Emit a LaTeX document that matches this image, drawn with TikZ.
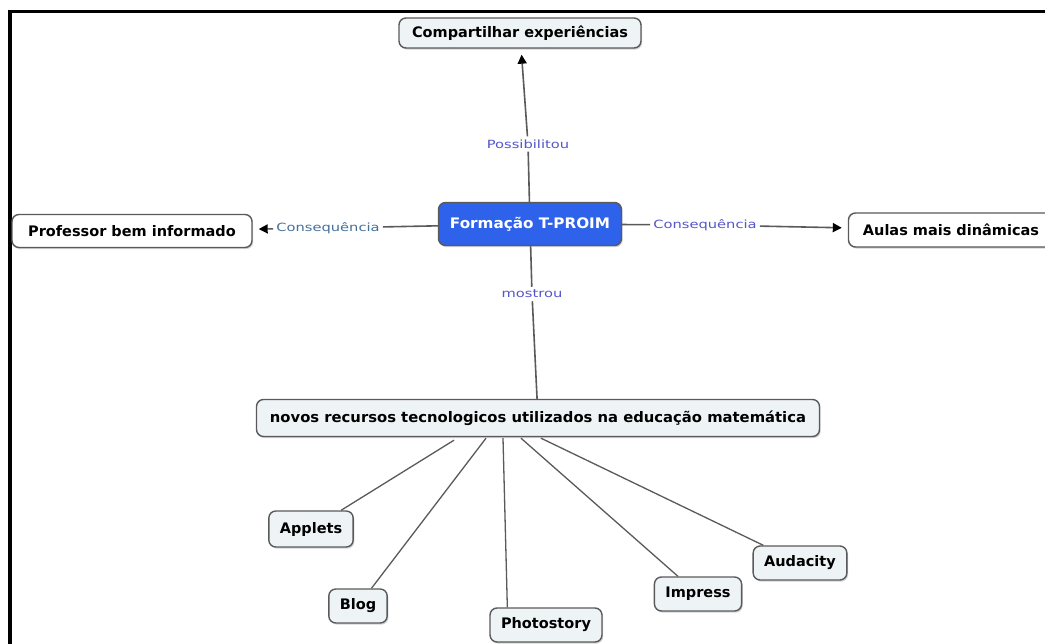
\documentclass[tikz,border=0pt]{standalone}
\usepackage{fontspec}
\usetikzlibrary{arrows.meta,shadows,calc}
\newfontfamily\cmapfont{DejaVu Sans}
\newfontfamily\cmapwide[FakeStretch=1.05]{DejaVu Sans}
\newfontfamily\cmapmid[FakeStretch=1.02]{DejaVu Sans}
\newfontfamily\linkfont[FakeStretch=1.3]{DejaVu Sans}
\definecolor{hubblue}{HTML}{2F62EA}
\definecolor{leaffill}{HTML}{EEF3F5}
\definecolor{edgegray}{HTML}{5A5A5A}
\definecolor{linkviolet}{HTML}{5555CC}
\definecolor{linksteel}{HTML}{43709C}
\begin{document}
\begin{tikzpicture}[x=1pt,y=-1pt,
  concept/.style={draw=edgegray, line width=1.4pt, rounded corners=7pt, fill=leaffill,
    font=\cmapfont\bfseries\fontsize{14.5}{16}\selectfont, text=black, inner xsep=11pt,
    minimum height=34pt,
    drop shadow={shadow xshift=1.2pt, shadow yshift=-1.6pt, opacity=0.35}},
  wide/.style={font=\cmapwide\bfseries\fontsize{14.5}{16}\selectfont},
  plain/.style={concept, fill=white},
  hub/.style={concept, wide, fill=hubblue, text=white, minimum height=43pt},
  linkword/.style={font=\linkfont\fontsize{11.3}{13}\selectfont, text=linkviolet, inner sep=3pt},
  link/.style={draw=edgegray, line width=1.6pt},
  linkarrow/.style={link, -{Triangle[length=9pt,width=9pt,color=black]}, shorten >=6pt}
]
\useasboundingbox (0,0) rectangle (1045,644);
\clip (0,0) rectangle (1045,644);
\fill[white] (0,0) rectangle (1045,644);

% frame
\draw[line width=3.5pt] (10,650) -- (10,11.5) -- (1050,11.5);

% concepts
\node[hub, minimum width=183pt] (hub) at (530,224) {Formação T-PROIM};
\node[concept, minimum width=242pt, minimum height=30pt] (comp) at (520,33) {Compartilhar experiências};
\node[plain, minimum width=240pt, minimum height=33pt] (prof) at (132,231) {Professor bem informado};
\node[plain, minimum width=205pt] (aulas) at (951,230) {Aulas mais dinâmicas};
\node[concept, font=\cmapmid\bfseries\fontsize{14.5}{16}\selectfont, inner xsep=4pt, minimum width=563pt, minimum height=37pt] (novos) at (538,418) {novos recursos tecnologicos utilizados na educação matemática};
\node[concept, minimum height=36pt] (applets) at (311,529) {Applets};
\node[concept] (blog) at (358,606) {Blog};
\node[concept] (photo) at (546,625) {Photostory};
\node[concept] (impress) at (698,594) {Impress};
\node[concept] (audacity) at (800,563) {Audacity};

% linking words
\node[linkword] (lpos) at (528,144) {Possibilitou};
\node[linkword, text=linksteel] (lcl) at (328,228) {Consequência};
\node[linkword] (lcr) at (705,225) {Consequência};
\node[linkword] (lmos) at (532,294) {mostrou};

% connections from the hub
\draw[link] (hub) -- (lpos);
\draw[linkarrow] (lpos) -- (comp);
\draw[link] (hub) -- (lcl);
\draw[linkarrow] (lcl) -- (prof);
\draw[link] (hub) -- (lcr);
\draw[linkarrow] (lcr) -- (aulas);
\draw[link] (hub) -- (lmos);
\draw[link] (lmos) -- (novos);

% resources branching from the lower concept
\coordinate (s1) at ($(novos.south)+(-84,3)$);
\coordinate (s2) at ($(novos.south)+(-52,1)$);
\coordinate (s3) at ($(novos.south)+(-35,1)$);
\coordinate (s4) at ($(novos.south)+(-17,1)$);
\coordinate (s5) at ($(novos.south)+(3,1)$);
\draw[link, line width=1.3pt] (s1) -- (applets);
\draw[link, line width=1.3pt] (s2) -- (blog);
\draw[link, line width=1.3pt] (s3) -- ($(photo.north west)+(18,0)$);
\draw[link, line width=1.3pt] (s4) -- (impress);
\draw[link, line width=1.3pt] (s5) -- (audacity);
\end{tikzpicture}
\end{document}
